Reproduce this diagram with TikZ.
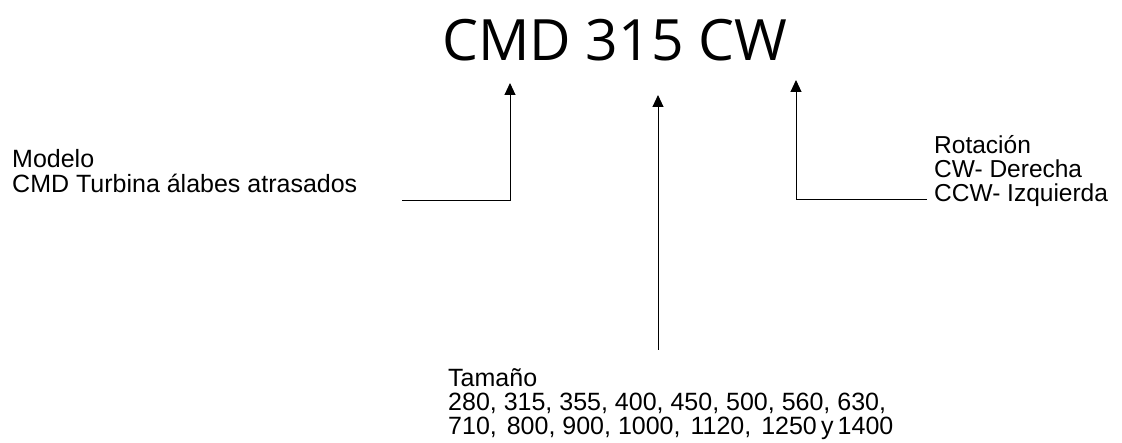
\documentclass[tikz,border=0pt]{standalone}
\usepackage{fontspec}
\setmainfont{Liberation Sans}
\newfontfamily\titlefont{Open Sans}
\usetikzlibrary{arrows.meta}
\begin{document}
\begin{tikzpicture}[x=1pt,y=-1pt,
  lbl/.style={anchor=north west,inner sep=0pt,align=left,font=\fontsize{25}{24.5}\selectfont},
  rot lbl/.style={lbl,font=\fontsize{24.5}{24}\selectfont},
  conn/.style={line width=1pt,black},
  pointer/.style={conn,-{Triangle[width=11pt,length=12pt]}}]
\useasboundingbox (0,0) rectangle (1122,443);
\node[anchor=base west,inner sep=0pt,font=\titlefont\fontsize{57}{60}\selectfont] (title) at (442,61) {CMD 315 CW};
\node[lbl] (modelo) at (12,149.5) {Modelo\\CMD Turbina álabes atrasados};
\node[rot lbl] (rot) at (934,135) {Rotación\\CW- Derecha\\CCW- Izquierda};
\node[lbl,font=\fontsize{25}{24}\selectfont] (tam) at (448,368) {Tamaño\\280, 315, 355, 400, 450, 500, 560, 630,\\710,\hspace{0.4em}800, 900, 1000,\hspace{0.4em}1120,\hspace{0.4em}1250\,y\,1400};
\coordinate (mtip) at (510,83);
\coordinate (mcorner) at (510,201);
\coordinate (mstart) at (402,201);
\coordinate (ttip) at (658,95);
\coordinate (tstart) at (658,350);
\coordinate (rtip) at (796,80);
\coordinate (rcorner) at (796,200);
\coordinate (rstart) at (927,200);
\draw[conn] (mstart) -- (mcorner);
\draw[pointer] (mcorner) -- (mtip);
\draw[pointer] (tstart) -- (ttip);
\draw[conn] (rstart) -- (rcorner);
\draw[pointer] (rcorner) -- (rtip);
\end{tikzpicture}
\end{document}
